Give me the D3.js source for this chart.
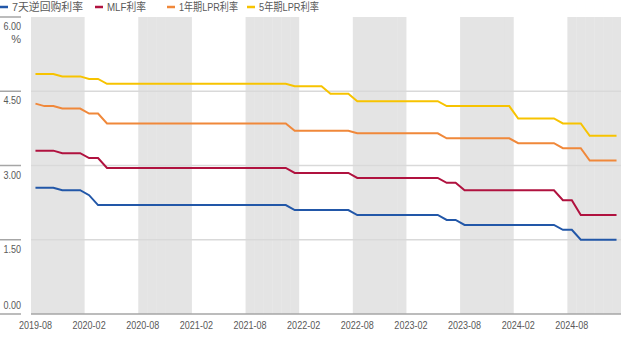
<!DOCTYPE html>
<html>
<head>
<meta charset="utf-8">
<script src="https://cdn.jsdelivr.net/npm/d3@7"></script>
<style>
  body { margin: 0; background: #fff; }
  text { font-family: "Liberation Sans", "Noto Sans CJK SC", sans-serif; fill: #595959; }
</style>
</head>
<body>
<svg id="chart" width="631" height="337"></svg>
<script>
// months 2019-08 .. 2025-01
let months = [
  "2019-08","2019-09","2019-10","2019-11","2019-12","2020-01","2020-02","2020-03","2020-04","2020-05","2020-06","2020-07",
  "2020-08","2020-09","2020-10","2020-11","2020-12","2021-01","2021-02","2021-03","2021-04","2021-05","2021-06","2021-07",
  "2021-08","2021-09","2021-10","2021-11","2021-12","2022-01","2022-02","2022-03","2022-04","2022-05","2022-06","2022-07",
  "2022-08","2022-09","2022-10","2022-11","2022-12","2023-01","2023-02","2023-03","2023-04","2023-05","2023-06","2023-07",
  "2023-08","2023-09","2023-10","2023-11","2023-12","2024-01","2024-02","2024-03","2024-04","2024-05","2024-06","2024-07",
  "2024-08","2024-09","2024-10","2024-11","2024-12","2025-01"
];

let xTickLabels = ["2019-08","2020-02","2020-08","2021-02","2021-08","2022-02","2022-08","2023-02","2023-08","2024-02","2024-08"];
let yTicks = [0, 1.5, 3, 4.5, 6];

let seriesNames = ["7天逆回购利率", "MLF利率", "1年期LPR利率", "5年期LPR利率"];
let seriesColors = ["#2257a8", "#b0123f", "#f0883a", "#f7c300"];

let repo7d = [2.55,2.55,2.55,2.50,2.50,2.50,2.40,2.20,2.20,2.20,2.20,2.20,
  2.20,2.20,2.20,2.20,2.20,2.20,2.20,2.20,2.20,2.20,2.20,2.20,
  2.20,2.20,2.20,2.20,2.20,2.10,2.10,2.10,2.10,2.10,2.10,2.10,
  2.00,2.00,2.00,2.00,2.00,2.00,2.00,2.00,2.00,2.00,1.90,1.90,
  1.80,1.80,1.80,1.80,1.80,1.80,1.80,1.80,1.80,1.80,1.80,1.70,
  1.70,1.50,1.50,1.50,1.50,1.50];
let mlf = [3.30,3.30,3.30,3.25,3.25,3.25,3.15,3.15,2.95,2.95,2.95,2.95,
  2.95,2.95,2.95,2.95,2.95,2.95,2.95,2.95,2.95,2.95,2.95,2.95,
  2.95,2.95,2.95,2.95,2.95,2.85,2.85,2.85,2.85,2.85,2.85,2.85,
  2.75,2.75,2.75,2.75,2.75,2.75,2.75,2.75,2.75,2.75,2.65,2.65,
  2.50,2.50,2.50,2.50,2.50,2.50,2.50,2.50,2.50,2.50,2.50,2.30,
  2.30,2.00,2.00,2.00,2.00,2.00];
let lpr1y = [4.25,4.20,4.20,4.15,4.15,4.15,4.05,4.05,3.85,3.85,3.85,3.85,
  3.85,3.85,3.85,3.85,3.85,3.85,3.85,3.85,3.85,3.85,3.85,3.85,
  3.85,3.85,3.85,3.85,3.85,3.70,3.70,3.70,3.70,3.70,3.70,3.70,
  3.65,3.65,3.65,3.65,3.65,3.65,3.65,3.65,3.65,3.65,3.55,3.55,
  3.55,3.55,3.55,3.55,3.55,3.55,3.45,3.45,3.45,3.45,3.45,3.35,
  3.35,3.35,3.10,3.10,3.10,3.10];
let lpr5y = [4.85,4.85,4.85,4.80,4.80,4.80,4.75,4.75,4.65,4.65,4.65,4.65,
  4.65,4.65,4.65,4.65,4.65,4.65,4.65,4.65,4.65,4.65,4.65,4.65,
  4.65,4.65,4.65,4.65,4.65,4.60,4.60,4.60,4.60,4.45,4.45,4.45,
  4.30,4.30,4.30,4.30,4.30,4.30,4.30,4.30,4.30,4.30,4.20,4.20,
  4.20,4.20,4.20,4.20,4.20,4.20,3.95,3.95,3.95,3.95,3.95,3.85,
  3.85,3.85,3.60,3.60,3.60,3.60];

let allSeries = [repo7d, mlf, lpr1y, lpr5y];

var svg = d3.select("#chart");
var plotLeft = 31, plotRight = 621, plotTop = 17, plotBottom = 314;

var x = d3.scaleBand().domain(months).range([plotLeft, plotRight]).padding(0);
var y = d3.scaleLinear().domain([0, 6]).range([plotBottom, plotTop]);

// squeeze latin labels to look like a narrow font
function narrow(sel, k) {
  sel.each(function() {
    var w = this.getComputedTextLength();
    d3.select(this).attr("textLength", w * k).attr("lengthAdjust", "spacingAndGlyphs");
  });
}

// grey half-year shading, one rect per month (slight overlap keeps seams faint)
var shadeMonths = months.filter(function(m, i) { return Math.floor(i / 6) % 2 === 0; });
svg.append("g")
  .selectAll("rect")
  .data(shadeMonths)
  .enter().append("rect")
  .attr("x", function(d) { return x(d); })
  .attr("y", plotTop)
  .attr("width", function(d, i) {
    var last = (months.indexOf(d) % 6 === 5);
    return last ? x.bandwidth() : x.bandwidth() + 0.35;
  })
  .attr("height", plotBottom - plotTop)
  .attr("fill", "#e4e4e4");

// gridlines inside plot
svg.append("g")
  .selectAll("line")
  .data(yTicks.filter(function(d) { return d > 0 && d < 6; }))
  .enter().append("line")
  .attr("x1", plotLeft).attr("x2", plotRight)
  .attr("y1", function(d) { return y(d); })
  .attr("y2", function(d) { return y(d); })
  .attr("stroke", "#d9d9d9")
  .attr("stroke-width", 1.5);

// y ticks + labels in left margin
var yAxis = svg.append("g");
yAxis.selectAll("line")
  .data(yTicks)
  .enter().append("line")
  .attr("x1", 0).attr("x2", 21)
  .attr("y1", function(d) { return y(d); })
  .attr("y2", function(d) { return y(d); })
  .attr("stroke", "#a6a6a6")
  .attr("stroke-width", 1.5);
yAxis.selectAll("text")
  .data(yTicks)
  .enter().append("text")
  .attr("x", 21)
  .attr("y", function(d) { return d === 0 ? y(d) - 5 : y(d) + 13; })
  .attr("text-anchor", "end")
  .attr("font-size", 11)
  .text(function(d) { return d3.format(".2f")(d); })
  .call(narrow, 0.82);
yAxis.append("text")
  .attr("x", 21).attr("y", y(6) + 26)
  .attr("text-anchor", "end")
  .attr("font-size", 11)
  .attr("fill", "#808080")
  .text("%");

// bottom axis line
svg.append("line")
  .attr("x1", plotLeft).attr("x2", plotRight)
  .attr("y1", plotBottom).attr("y2", plotBottom)
  .attr("stroke", "#a6a6a6")
  .attr("stroke-width", 1.5);

// x labels
svg.append("g")
  .selectAll("text")
  .data(xTickLabels)
  .enter().append("text")
  .attr("x", function(d) { return x(d) + x.bandwidth() / 2; })
  .attr("y", 329)
  .attr("text-anchor", "middle")
  .attr("font-size", 11)
  .text(function(d) { return d; })
  .call(narrow, 0.82);

// lines
var line = d3.line()
  .x(function(d, i) { return x(months[i]) + x.bandwidth() / 2; })
  .y(function(d) { return y(d); });

svg.append("g")
  .selectAll("path")
  .data(allSeries)
  .enter().append("path")
  .attr("d", function(d) { return line(d); })
  .attr("fill", "none")
  .attr("stroke", function(d, i) { return seriesColors[i]; })
  .attr("stroke-width", 2);

// legend
var legendX = [0, 95, 167, 247];
var legendW = [71, 39, 59, 60];
var legend = svg.append("g")
  .selectAll("g")
  .data(seriesNames)
  .enter().append("g")
  .attr("transform", function(d, i) { return "translate(" + legendX[i] + ",7)"; });
legend.append("line")
  .attr("x1", 0).attr("x2", 8)
  .attr("stroke", function(d, i) { return seriesColors[i]; })
  .attr("stroke-width", 2.5);
legend.append("text")
  .attr("x", 12).attr("y", 4)
  .attr("font-size", 11)
  .attr("textLength", function(d, i) { return legendW[i]; })
  .attr("lengthAdjust", "spacingAndGlyphs")
  .text(function(d) { return d; });
</script>
</body>
</html>
